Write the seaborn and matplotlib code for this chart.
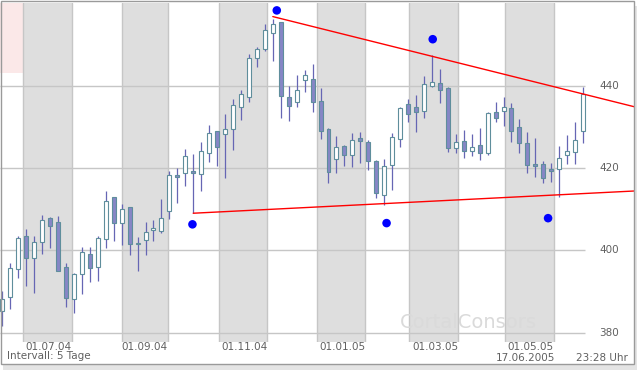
import numpy as np
import pandas as pd
import seaborn as sns
import matplotlib.pyplot as plt
from matplotlib.patches import Rectangle

# candle values (5-day interval)
opens = [385.3, 388.6, 395.5, 403.4, 398.1, 401.9, 407.8, 406.8, 396.0, 388.1,
         394.2, 399.2, 396.0, 402.7, 412.9, 406.7, 410.4, 401.4, 402.5, 404.9,
         404.8, 409.6, 418.3, 418.9, 419.3, 418.5, 423.7, 429.0, 428.2, 429.4,
         434.8, 437.3, 446.7, 448.9, 452.7, 455.4, 437.2, 436.0, 441.4, 441.6,
         436.3, 429.4, 422.1, 425.3, 423.1, 427.2, 426.3, 421.8, 413.4, 420.8,
         427.1, 435.5, 434.9, 433.9, 439.9, 440.6, 439.5, 424.8, 426.6, 424.1,
         425.6, 423.6, 433.6, 433.9, 434.5, 429.9, 426.1, 421.0, 421.0, 419.8,
         419.7, 423.2, 424.0, 429.1]
highs = [390.0, 396.9, 403.4, 405.1, 403.5, 408.6, 408.0, 408.3, 396.8, 394.4,
         400.8, 400.8, 403.5, 414.5, 412.9, 411.3, 410.6, 403.2, 406.9, 407.4,
         412.4, 419.3, 419.9, 424.5, 423.4, 426.2, 430.4, 429.0, 433.1, 436.8,
         439.0, 447.6, 449.5, 454.9, 456.2, 455.6, 439.9, 442.6, 443.8, 445.3,
         439.4, 429.6, 427.8, 425.6, 428.4, 428.7, 426.7, 421.9, 422.2, 428.6,
         434.9, 436.8, 437.7, 442.4, 447.5, 444.1, 439.8, 428.3, 429.2, 428.3,
         429.8, 433.6, 436.0, 437.3, 435.9, 431.8, 428.8, 427.2, 421.8, 421.2,
         425.3, 428.0, 431.1, 439.6]
lows = [381.7, 385.7, 393.2, 391.4, 389.6, 399.2, 400.6, 395.0, 386.1, 384.7,
        389.4, 392.4, 392.6, 400.5, 402.3, 401.3, 398.9, 395.0, 398.9, 402.3,
        404.1, 407.5, 411.6, 415.6, 409.0, 414.5, 421.5, 420.6, 417.5, 424.4,
        431.7, 436.0, 444.5, 448.4, 446.0, 432.2, 431.5, 434.9, 438.5, 433.7,
        427.0, 416.4, 418.7, 420.5, 420.2, 421.1, 419.5, 412.6, 411.0, 414.7,
        425.2, 431.1, 428.7, 432.2, 439.8, 435.7, 424.0, 423.6, 422.5, 422.8,
        421.9, 423.1, 431.1, 430.2, 426.2, 423.6, 418.9, 417.7, 416.3, 416.7,
        413.0, 421.0, 421.0, 426.0]
closes = [388.1, 395.6, 402.9, 398.1, 402.0, 407.4, 406.0, 395.0, 388.3, 394.2,
          399.6, 395.8, 402.9, 412.0, 406.7, 410.1, 401.5, 401.8, 404.5, 405.4,
          407.8, 418.2, 417.9, 422.9, 418.7, 424.1, 428.5, 425.2, 429.5, 435.3,
          437.9, 446.7, 448.8, 453.5, 455.0, 437.6, 435.1, 439.0, 442.6, 436.1,
          429.0, 419.1, 425.0, 423.1, 426.9, 426.6, 421.8, 414.0, 420.6, 427.5,
          434.5, 433.0, 433.5, 440.3, 440.8, 438.9, 424.9, 426.2, 424.1, 425.2,
          423.7, 433.3, 432.1, 434.8, 429.1, 426.0, 420.7, 420.5, 417.5, 419.3,
          422.4, 424.2, 426.8, 438.0]

# month starts, in candle-index units (Jun 04 ... May 05)
month_edges = [2.6, 8.7, 15.1, 20.8, 27.2, 33.3, 39.5, 45.6, 51.1, 57.3, 63.2, 69.3]
date_labels = ["01.07.04", "01.09.04", "01.11.04", "01.01.05", "01.03.05", "01.05.05"]
price_ticks = [380, 400, 420, 440]

# marked turning points
dot_x = [23.9, 34.5, 48.3, 54.1, 68.6]
dot_y = [406.3, 458.3, 406.6, 451.3, 407.8]

# trend lines
resist_x = [34, 79.4]
resist_y = [456.8, 434.9]
support_x = [24, 79.4]
support_y = [409.0, 414.4]

W, H = 640, 370
x_left, x_grid_end, x_right = -0.29, 73.2, 79.4
y_bottom, y_top = 377.7, 460.1

sns.set_style("white")
plt.rcParams["font.family"] = ["DejaVu Sans"]

fig = plt.figure(figsize=(6.4, 3.7), dpi=100)
ax = fig.add_axes([0, 1 - 342 / H, 634 / W, 339 / H])
ax.set_xlim(x_left, x_right)
ax.set_ylim(y_bottom, y_top)
ax.axis("off")

# shaded months (every other month)
for a, b in zip(month_edges[0::2], month_edges[1::2]):
    ax.axvspan(a, b, facecolor="#dedede", edgecolor="none", zorder=0)
ax.add_patch(Rectangle((x_left, 443.1), month_edges[0] - x_left, y_top - 443.1,
                       facecolor="#fbe8e8", edgecolor="none", zorder=0))

# grid
for m in month_edges:
    ax.axvline(m, color="#c6c6c6", lw=1.0, zorder=1)
ax.hlines(price_ticks, x_left, x_grid_end, color="#c6c6c6", lw=1.0, zorder=1)

# watermark
fig.text(400 / W, 1 - 323 / H, "CortalConsors", fontsize=14, color="#dadada",
         va="center", ha="left", zorder=1)

# candles
df = pd.DataFrame({"open": opens, "high": highs, "low": lows, "close": closes})
df["x"] = np.arange(len(df))
up = df["close"] >= df["open"]
ax.vlines(df["x"], df["low"], df["high"], color="#6666b4", lw=0.9, zorder=3)
body_lo = np.minimum(df["open"], df["close"])
body_h = np.maximum(np.abs(df["close"] - df["open"]), 0.35)
ax.bar(df["x"], body_h, bottom=body_lo, width=0.5,
       color=np.where(up, "white", "#8686c6"), edgecolor="#5f8e9c",
       linewidth=0.8, zorder=4)

# trend lines and points
ax.plot(resist_x, resist_y, color="#ff0000", lw=1.0, zorder=5)
ax.plot(support_x, support_y, color="#ff0000", lw=1.0, zorder=5)
sns.scatterplot(x=dot_x, y=dot_y, color="#0000ff", s=38, edgecolor="none",
                zorder=6, ax=ax)

# labels
for pos, lab in zip(month_edges[1::2], date_labels):
    ax.text(pos, -0.016, lab, transform=ax.get_xaxis_transform(), ha="right",
            va="center", fontsize=7.5, color="#606060")
for t in price_ticks:
    ax.text(619 / 634 * (x_right - x_left) + x_left, t, str(t), ha="right",
            va="center", fontsize=7.5, color="#606060")
fig.text(7 / W, 1 - 356 / H, "Intervall: 5 Tage", fontsize=7.5, color="#606060",
         va="center")
fig.text(555 / W, 1 - 358 / H, "17.06.2005", fontsize=7.5, color="#606060",
         va="center", ha="right")
fig.text(628 / W, 1 - 358 / H, "23:28 Uhr", fontsize=7.5, color="#606060",
         va="center", ha="right")

# outer frame with a light shadow
fig.add_artist(Rectangle((3 / W, 0), 634 / W, 1 - 6 / H, transform=fig.transFigure,
                         facecolor="#e4e4e4", edgecolor="none", zorder=-2))
fig.add_artist(Rectangle((0.5 / W, 1 - 364 / H), 633.5 / W, 363 / H,
                         transform=fig.transFigure, facecolor="none",
                         edgecolor="#9a9a9a", lw=1.0, zorder=10))
fig.patch.set_facecolor("white")
fig.add_artist(Rectangle((0.5 / W, 1 - 364 / H), 633.5 / W, 363 / H,
                         transform=fig.transFigure, facecolor="white",
                         edgecolor="none", zorder=-1))

fig.savefig("out.png", dpi=100)
